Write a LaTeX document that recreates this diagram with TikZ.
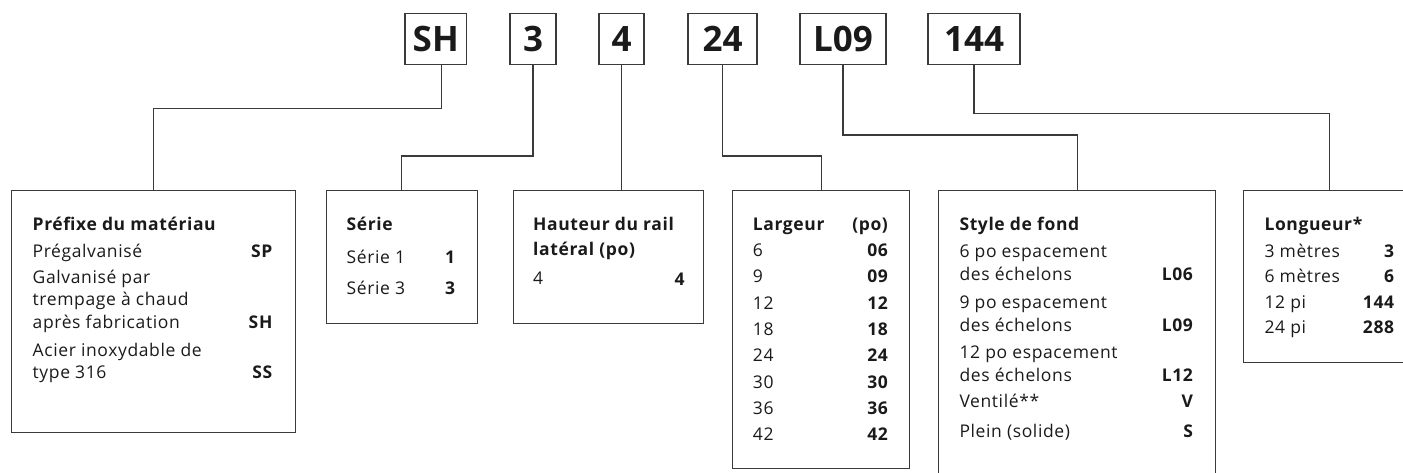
\documentclass[tikz,border=0pt]{standalone}
\usepackage{fontspec}
\setmainfont{Open Sans}[LetterSpace=3.5]
\newfontfamily\codefont{Open Sans}
\definecolor{linegray}{HTML}{3A3A3A}
\definecolor{textdark}{HTML}{1A1A1A}
\tikzset{
  codebox/.style={draw=linegray, line width=1.1pt, minimum height=51pt, inner sep=0pt,
    text=textdark, font=\codefont\bfseries\fontsize{35}{40}\selectfont},
  infobox/.style={draw=linegray, line width=1.1pt, anchor=north west, inner sep=0pt},
  infotext/.style={anchor=base west, inner sep=0pt, text=textdark,
    font=\fontsize{17.5}{22.5}\selectfont},
  link/.style={draw=linegray, line width=1.1pt}
}
\begin{document}
\begin{tikzpicture}[x=1pt,y=-1pt]
  \useasboundingbox (0,0) rectangle (1403,473);
  \clip (0,0) rectangle (1403,473);
  \draw
    (435.75,38.8) node[codebox, minimum width=61.5pt] (cSH){SH}
    (533,38.8) node[codebox, minimum width=46pt] (c3){3}
    (621.5,38.8) node[codebox, minimum width=45pt] (c4){4}
    (722.5,38.8) node[codebox, minimum width=69pt] (c24){24}
    (843,38.8) node[codebox, minimum width=86pt] (cL09){L09}
    (974,38.8) node[codebox, minimum width=92pt] (c144){144};
  \draw
    (11,190) node[infobox, minimum width=284pt, minimum height=241.7pt] (prefixe){}
    (326,190) node[infobox, minimum width=150.7pt, minimum height=133.3pt] (serie){}
    (513.3,190) node[infobox, minimum width=190pt, minimum height=133.3pt] (hauteur){}
    (731.7,190) node[infobox, minimum width=177.6pt, minimum height=278.3pt] (largeur){}
    (938,190) node[infobox, minimum width=277pt, minimum height=320pt] (fond){}
    (1243,190) node[infobox, minimum width=172pt, minimum height=171.7pt] (longueur){};
  \begin{scope}[link]
    \draw ([xshift=6pt]cSH.south) -- ([xshift=6pt]cSH.south |- 0,108.3) -| (prefixe.north);
    \draw (c3.south) -- (c3.south |- 0,156) -| (serie.north);
    \draw (c4.south) -- (c4.south |- hauteur.north);
    \draw (c24.south) -- (c24.south |- 0,156) -| (largeur.north);
    \draw (cL09.south) -- (cL09.south |- 0,135) -| (fond.north);
    \draw (c144.south) -- (c144.south |- 0,113.3) -| (longueur.north);
  \end{scope}
  \node[infotext] (prefixeTxt) at ([xshift=21.5pt,yshift=-40pt]prefixe.north west)
    {\begin{tabular*}{240.3pt}[t]{@{}l@{\extracolsep{\fill}}r@{}}
      \textbf{Préfixe du matériau} & \\[5.5pt]
      Prégalvanisé & \textbf{SP} \\[3pt]
      Galvanisé par & \\
      trempage à chaud & \\
      après fabrication & \textbf{SH} \\[5.5pt]
      Acier inoxydable de & \\
      type 316 & \textbf{SS}
    \end{tabular*}};
  \node[infotext] (serieTxt) at ([xshift=20.5pt,yshift=-40pt]serie.north west)
    {\begin{tabular*}{109pt}[t]{@{}l@{\extracolsep{\fill}}r@{}}
      \textbf{Série} & \\[10.5pt]
      Série 1 & \textbf{1} \\[8.5pt]
      Série 3 & \textbf{3}
    \end{tabular*}};
  \node[infotext] (hauteurTxt) at ([xshift=19.7pt,yshift=-40pt]hauteur.north west)
    {\begin{tabular*}{149pt}[t]{@{}l@{\extracolsep{\fill}}r@{}}
      \textbf{Hauteur du rail} & \\[2.5pt]
      \textbf{latéral (po)} & \\[7.5pt]
      4 & \textbf{4}
    \end{tabular*}};
  \node[infotext] (largeurTxt) at ([xshift=21pt,yshift=-40pt]largeur.north west)
    {\begin{tabular*}{135.6pt}[t]{@{}l@{\extracolsep{\fill}}r@{}}
      \textbf{Largeur} & \textbf{(po)} \\[4.2pt]
      6 & \textbf{06} \\[3.8pt]
      9 & \textbf{09} \\[3.8pt]
      12 & \textbf{12} \\[3.8pt]
      18 & \textbf{18} \\[3.8pt]
      24 & \textbf{24} \\[3.8pt]
      30 & \textbf{30} \\[3.8pt]
      36 & \textbf{36} \\[3.8pt]
      42 & \textbf{42}
    \end{tabular*}};
  \node[infotext] (fondTxt) at ([xshift=21.3pt,yshift=-40pt]fond.north west)
    {\begin{tabular*}{234pt}[t]{@{}l@{\extracolsep{\fill}}r@{}}
      \textbf{Style de fond} & \\[5.5pt]
      6 po espacement & \\
      des échelons & \textbf{L06} \\[5.5pt]
      9 po espacement & \\
      des échelons & \textbf{L09} \\[5.5pt]
      12 po espacement & \\
      des échelons & \textbf{L12} \\[4pt]
      Ventilé** & \textbf{V} \\[7.5pt]
      Plein (solide) & \textbf{S}
    \end{tabular*}};
  \node[infotext] (longueurTxt) at ([xshift=21.3pt,yshift=-40pt]longueur.north west)
    {\begin{tabular*}{128.4pt}[t]{@{}l@{\extracolsep{\fill}}r@{}}
      \textbf{Longueur*} & \\[4.8pt]
      3 mètres & \textbf{3} \\[3pt]
      6 mètres & \textbf{6} \\[3pt]
      12 pi & \textbf{144} \\[3pt]
      24 pi & \textbf{288}
    \end{tabular*}};
\end{tikzpicture}
\end{document}
